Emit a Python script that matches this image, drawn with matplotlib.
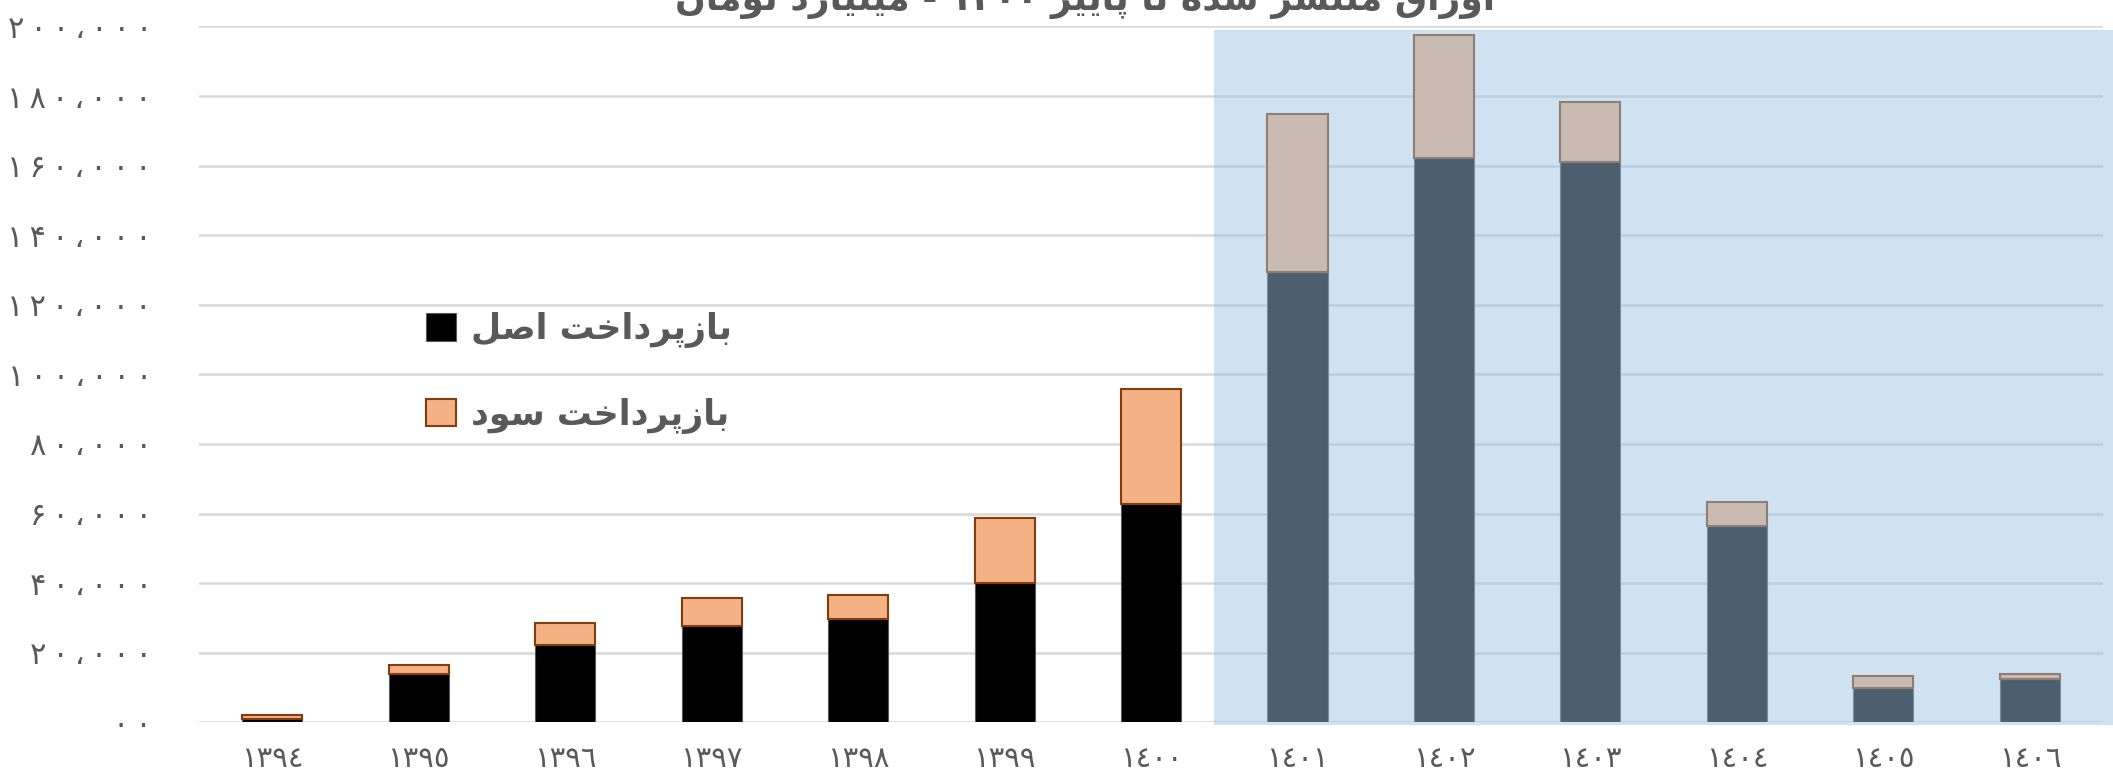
import re
import matplotlib
matplotlib.use('Agg')
import matplotlib.pyplot as plt
from matplotlib.patches import Rectangle, Patch

# سال‌ها و مبالغ بازپرداخت (میلیارد تومان)
years = ['١٣٩٤', '١٣٩٥', '١٣٩٦', '١٣٩٧', '١٣٩٨', '١٣٩٩', '١٤٠٠',
         '١٤٠١', '١٤٠٢', '١٤٠٣', '١٤٠٤', '١٤٠٥', '١٤٠٦']
principal = [900, 14000, 22100, 27700, 29700, 39900, 62700,
             129300, 162300, 160900, 56300, 9800, 12400]
interest = [1200, 2600, 6500, 7900, 6900, 18800, 33000,
            45400, 35300, 17500, 7000, 3400, 1400]

yticks = [0, 20000, 40000, 60000, 80000, 100000, 120000, 140000, 160000, 180000, 200000]
ytick_labels = ['۰۰', '۲۰،۰۰۰', '۴۰،۰۰۰', '۶۰،۰۰۰', '۸۰،۰۰۰', '۱۰۰،۰۰۰',
                '۱۲۰،۰۰۰', '۱۴۰،۰۰۰', '۱۶۰،۰۰۰', '۱۸۰،۰۰۰', '۲۰۰،۰۰۰']

title = 'اوراق منتشر شده تا پاییز ۱۴۰۰ - میلیارد تومان'
label_principal = 'بازپرداخت اصل'
label_interest = 'بازپرداخت سود'

# سال‌های پیش‌بینی (از ۱۴۰۱ به بعد) زیر یک لایه آبی کم‌رنگ
forecast_start = 6.43

# matplotlib متن فارسی را نمی‌چسباند؛ شکل حروف را دستی انتخاب می‌کنیم
# (تنها, پایانی, آغازی, میانی)
FORMS = {
    'ا': ('\uFE8D', '\uFE8E', None, None),
    'ب': ('\uFE8F', '\uFE90', '\uFE91', '\uFE92'),
    'پ': ('\uFB56', '\uFB57', '\uFB58', '\uFB59'),
    'ت': ('\uFE95', '\uFE96', '\uFE97', '\uFE98'),
    'خ': ('\uFEA5', '\uFEA6', '\uFEA7', '\uFEA8'),
    'د': ('\uFEA9', '\uFEAA', None, None),
    'ر': ('\uFEAD', '\uFEAE', None, None),
    'ز': ('\uFEAF', '\uFEB0', None, None),
    'س': ('\uFEB1', '\uFEB2', '\uFEB3', '\uFEB4'),
    'ش': ('\uFEB5', '\uFEB6', '\uFEB7', '\uFEB8'),
    'ص': ('\uFEB9', '\uFEBA', '\uFEBB', '\uFEBC'),
    'ق': ('\uFED5', '\uFED6', '\uFED7', '\uFED8'),
    'ل': ('\uFEDD', '\uFEDE', '\uFEDF', '\uFEE0'),
    'م': ('\uFEE1', '\uFEE2', '\uFEE3', '\uFEE4'),
    'ن': ('\uFEE5', '\uFEE6', '\uFEE7', '\uFEE8'),
    'ه': ('\uFEE9', '\uFEEA', '\uFEEB', '\uFEEC'),
    'و': ('\uFEED', '\uFEEE', None, None),
    'ی': ('\uFBFC', '\uFBFD', '\uFBFE', '\uFBFF'),
}


def fa(text):
    out = []
    for i, ch in enumerate(text):
        if ch not in FORMS:
            out.append(ch)
            continue
        prev = text[i - 1] if i > 0 else ''
        nxt = text[i + 1] if i + 1 < len(text) else ''
        f = FORMS[ch]
        join_prev = prev in FORMS and FORMS[prev][2] is not None
        join_next = f[2] is not None and nxt in FORMS
        if join_prev and join_next:
            out.append(f[3])
        elif join_prev:
            out.append(f[1])
        elif join_next:
            out.append(f[2])
        else:
            out.append(f[0])
    s = ''.join(out)[::-1]
    # اعداد چپ‌به‌راست می‌مانند
    return re.sub(r'[0-9۰-۹٠-٩]+', lambda m: m.group(0)[::-1], s)


plt.rcParams['font.family'] = ['DejaVu Sans']
gray = '#595959'

fig = plt.figure(figsize=(21.13, 7.76), dpi=100)
ax = fig.add_axes([0.0942, 0.0692, 0.9011, 0.8967])

x = list(range(len(years)))
ax.bar(x, principal, width=0.41, color='black', edgecolor='#5a5a5a',
       linewidth=0.8, zorder=3)
ax.bar(x, interest, width=0.41, bottom=principal, color='#F4B183',
       edgecolor='#843C0C', linewidth=1.5, zorder=3)

ax.set_xlim(-0.5, len(years) - 0.5)
ax.set_ylim(0, 200000)
ax.set_yticks(yticks)
# ارقام محور عمودی کمی با فاصله از هم
ax.set_yticklabels(['\u2009'.join(s) for s in ytick_labels])
ax.set_xticks(x)
ax.set_xticklabels(years)
ax.tick_params(axis='y', length=0, pad=34, labelsize=22, labelcolor=gray)
ax.tick_params(axis='x', length=0, pad=16, labelsize=21, labelcolor=gray)
ax.grid(axis='y', color='#D9D9D9', linewidth=1.8, zorder=0)
ax.set_axisbelow(True)
for sp in ax.spines.values():
    sp.set_visible(False)

# لایه آبی روی سال‌های آینده
ax.add_patch(Rectangle((forecast_start, -780), len(years) - 0.43 - forecast_start, 199100 + 780,
                       facecolor=(157 / 255, 196 / 255, 228 / 255), alpha=0.49,
                       linewidth=0, zorder=5, clip_on=False))

handles = [Patch(facecolor='black', edgecolor='#5a5a5a', linewidth=0.8),
           Patch(facecolor='#F4B183', edgecolor='#843C0C', linewidth=1.5)]
leg = fig.legend(handles, [fa(label_principal), fa(label_interest)],
                 loc='upper left', bbox_to_anchor=(426 / 2113, 1 - 312 / 776),
                 frameon=False, handlelength=0.85, handleheight=0.85,
                 handletextpad=0.45, labelspacing=1.43, borderpad=0, borderaxespad=0,
                 prop={'weight': 'bold', 'size': 25})
for t in leg.get_texts():
    t.set_color(gray)

fig.text(1085 / 2113, 1 - 10 / 776, fa(title), ha='center', va='baseline',
         fontsize=26, fontweight='bold', color=gray)

fig.savefig('out.png', dpi=100)
